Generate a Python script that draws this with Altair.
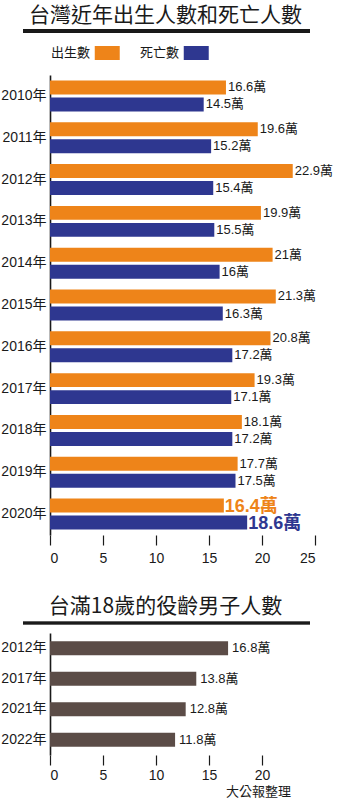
import altair as alt
import pandas as pd

years = ["2010年", "2011年", "2012年", "2013年", "2014年", "2015年",
         "2016年", "2017年", "2018年", "2019年", "2020年"]
births = [16.6, 19.6, 22.9, 19.9, 21, 21.3, 20.8, 19.3, 18.1, 17.7, 16.4]
deaths = [14.5, 15.2, 15.4, 15.5, 16, 16.3, 17.2, 17.1, 17.2, 17.5, 18.6]
series = ["出生數", "死亡數"]
x_ticks_top = [0, 5, 10, 15, 20, 25]

male_years = ["2012年", "2017年", "2021年", "2022年"]
male_counts = [16.8, 13.8, 12.8, 11.8]
x_ticks_bottom = [0, 5, 10, 15, 20]

title_top = "台灣近年出生人數和死亡人數"
title_bottom = "台滿18歲的役齡男子人數"
credit = "大公報整理"
unit = "萬"
highlight_year = "2020年"

ORANGE = "#EE8419"
BLUE = "#2E3790"
BROWN = "#5B4C47"
INK = "#1a1a1a"
FONT = "'Liberation Sans', 'Noto Sans CJK TC', sans-serif"
CJK = "'Noto Sans CJK TC', sans-serif"


def fmt(v):
    return f"{v:g}{unit}"


rows = []
for y, b, d in zip(years, births, deaths):
    rows.append({"year": y, "series": series[0], "value": b, "label": fmt(b)})
    rows.append({"year": y, "series": series[1], "value": d, "label": fmt(d)})
top_df = pd.DataFrame(rows)

bottom_df = pd.DataFrame({
    "year": male_years,
    "value": male_counts,
    "label": [fmt(v) for v in male_counts],
})

x_top = alt.X("value:Q", scale=alt.Scale(domain=[0, 25], nice=False),
              axis=alt.Axis(values=x_ticks_top, title=None, domain=False,
                            grid=False, tickColor=INK, tickSize=10,
                            tickWidth=1.2, labelFontSize=14, labelColor=INK,
                            labelPadding=6, labelFont=FONT))
y_top = alt.Y("year:N", sort=years,
              scale=alt.Scale(paddingInner=0.26, paddingOuter=0.13),
              axis=alt.Axis(title=None, ticks=False, domainColor=INK,
                            domainWidth=1.6, labelFontSize=14,
                            labelColor=INK, labelPadding=4, labelFont=FONT))
yoff = alt.YOffset("series:N", sort=series,
                   scale=alt.Scale(paddingInner=0.18))
color = alt.Color(
    "series:N", sort=series,
    scale=alt.Scale(domain=series, range=[ORANGE, BLUE]),
    legend=alt.Legend(
        title=None, orient="none", legendX=-13, legendY=-29, padding=0,
        direction="horizontal",
        symbolType="M7.25,-1H10.82V1H7.25Z", symbolSize=196,
        symbolStrokeWidth=0, symbolOpacity=1,
        labelAlign="left", labelOffset=0, labelFontSize=13,
        labelFont=CJK, labelColor=INK, columnPadding=6,
    ),
)

top_base = alt.Chart(top_df)
bars = top_base.mark_bar().encode(x=x_top, y=y_top, yOffset=yoff, color=color)
labels = top_base.mark_text(align="left", baseline="middle", dx=2,
                            fontSize=13, font=FONT, color=INK).encode(
    x="value:Q", y=alt.Y("year:N", sort=years), yOffset=yoff,
    text="label:N",
).transform_filter(alt.datum.year != highlight_year)
hl_labels = top_base.mark_text(align="left", baseline="middle", dx=1, dy=1,
                               fontSize=18, fontWeight="bold", font=FONT).encode(
    x="value:Q", y=alt.Y("year:N", sort=years), yOffset=yoff,
    text="label:N",
    color=alt.Color("series:N", sort=series, legend=None),
).transform_filter(alt.datum.year == highlight_year)
underline_top = top_base.mark_rule(color=INK, strokeWidth=2.5).encode(
    x=alt.value(-27), x2=alt.value(260), y=alt.value(-44))

top = alt.layer(bars, labels, hl_labels, underline_top).properties(
    width=265, height=460,
    title=alt.TitleParams(title_top, fontSize=21, font=CJK,
                          fontWeight="normal", color=INK, anchor="middle",
                          dx=-17, offset=4),
)

bottom_base = alt.Chart(bottom_df)
x_bot = alt.X("value:Q", scale=alt.Scale(domain=[0, 25], nice=False),
              axis=alt.Axis(values=x_ticks_bottom, title=credit,
                            domain=False, grid=False, tickColor=INK,
                            tickSize=10, tickWidth=1.2, labelFontSize=14,
                            labelColor=INK, labelPadding=3, labelFont=FONT,
                            titleFont=CJK, titleFontSize=13,
                            titleFontWeight="normal", titleColor=INK,
                            titleX=208, titleAlign="center", titlePadding=3))
y_bot = alt.Y("year:N", sort=male_years,
              scale=alt.Scale(paddingInner=0.54, paddingOuter=0.27),
              axis=alt.Axis(title=None, ticks=False, domainColor=INK,
                            domainWidth=1.6, labelFontSize=14,
                            labelColor=INK, labelPadding=4, labelFont=FONT))
bbars = bottom_base.mark_bar(color=BROWN).encode(x=x_bot, y=y_bot)
blabels = bottom_base.mark_text(align="left", baseline="middle", dx=4,
                                fontSize=13, font=FONT, color=INK).encode(
    x="value:Q", y=alt.Y("year:N", sort=male_years), text="label:N")
underline_bot = bottom_base.mark_rule(color=INK, strokeWidth=2.5).encode(
    x=alt.value(-27), x2=alt.value(260), y=alt.value(-10))

bottom = alt.layer(bbars, blabels, underline_bot).properties(
    width=265, height=122,
    title=alt.TitleParams(title_bottom, fontSize=21, font=CJK,
                          fontWeight="normal", color=INK, anchor="middle",
                          dx=-17, offset=5),
)

chart = alt.vconcat(top, bottom, spacing=30).properties(
    padding={"left": 0, "top": 4, "right": 0, "bottom": 0},
    background="white",
).configure_view(stroke=None)

chart.save("out.html", embed_options={"renderer": "svg", "actions": False})
